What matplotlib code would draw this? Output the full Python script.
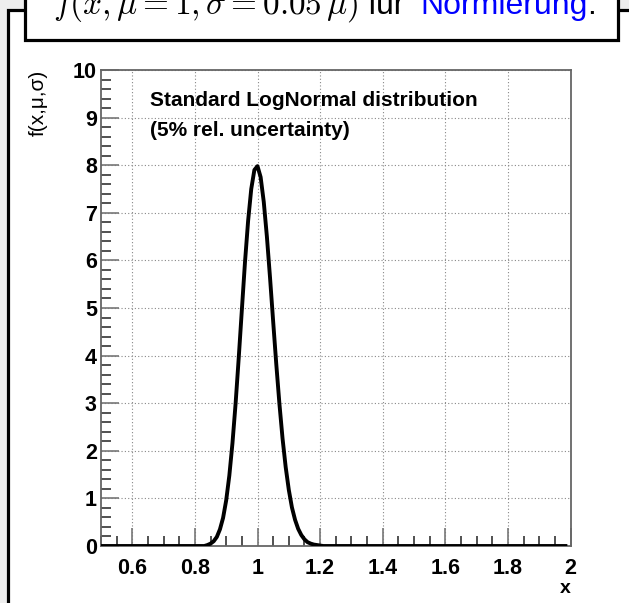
import matplotlib
matplotlib.use("Agg")
import matplotlib.pyplot as plt
from matplotlib.patches import Rectangle
from matplotlib.ticker import MultipleLocator

plt.rcParams["font.family"] = ["Liberation Sans", "DejaVu Sans"]
plt.rcParams["mathtext.fontset"] = "cm"

# curve (peak ~8 at x=1, tails end near 0.84 and 1.2)
x_vals = [0.50, 0.83, 0.84, 0.85, 0.86, 0.87, 0.88, 0.89, 0.90, 0.91, 0.92,
          0.93, 0.94, 0.95, 0.96, 0.97, 0.98, 0.99, 1.00, 1.01, 1.02, 1.03,
          1.04, 1.05, 1.06, 1.07, 1.08, 1.09, 1.10, 1.11, 1.12, 1.13, 1.14,
          1.15, 1.16, 1.17, 1.18, 1.19, 1.20, 1.21, 1.99]
y_vals = [0.0, 0.0, 0.02, 0.05, 0.10, 0.19, 0.35, 0.59, 0.96, 1.48, 2.16,
          2.99, 3.95, 4.96, 5.96, 6.83, 7.50, 7.90, 7.98, 7.75, 7.23, 6.50,
          5.64, 4.72, 3.82, 2.99, 2.26, 1.66, 1.18, 0.81, 0.55, 0.36, 0.23,
          0.14, 0.08, 0.05, 0.03, 0.02, 0.01, 0.0, 0.0]

x_ticks = [0.6, 0.8, 1.0, 1.2, 1.4, 1.6, 1.8, 2.0]
x_labels = ["0.6", "0.8", "1", "1.2", "1.4", "1.6", "1.8", "2"]
y_ticks = list(range(11))

W, H = 629, 603
fig = plt.figure(figsize=(W / 100, H / 100), dpi=100)
fig.patch.set_facecolor("#eeeeee")

def px(x, y):
    return x / W, 1 - y / H

# slide frame
fig.patches.append(Rectangle(px(8, 610), 1, 600 / H, transform=fig.transFigure,
                             facecolor="white", edgecolor="black", lw=2.3, zorder=-5))
# title box
x0, y0 = px(24.5, 39.5)
fig.patches.append(Rectangle((x0, y0), (617.5 - 24.5) / W, 0.2, transform=fig.transFigure,
                             facecolor="white", edgecolor="black", lw=2.3, zorder=-4))

by = 1 - 14 / H
fig.text(53 / W, by, r"$f(x,\mu=1,\sigma=0.05\,\mu)$", fontsize=24, va="baseline")
fig.text(367 / W, by, "für", fontsize=23, va="baseline")
fig.text(420 / W, by, "Normierung", fontsize=23, va="baseline", color="#0000ff")
fig.text(587 / W, by, ".", fontsize=23, va="baseline")

ax = fig.add_axes([101 / W, 1 - 546 / H, 469.5 / W, 476 / H])
ax.set_zorder(2)
ax.plot(x_vals, y_vals, color="black", lw=2.8, solid_capstyle="butt", zorder=3)
ax.set_xlim(0.5, 2.0)
ax.set_ylim(0, 10)

ax.set_xticks(x_ticks)
ax.set_xticklabels(x_labels)
ax.set_yticks(y_ticks)
ax.xaxis.set_minor_locator(MultipleLocator(0.05))
ax.yaxis.set_minor_locator(MultipleLocator(0.2))
ax.tick_params(which="both", direction="in", width=1.2,
               top=False, right=False, labelsize=15.5)
ax.tick_params(which="major", length=13, color="#777777")
ax.tick_params(which="minor", length=7, color="#333333")
ax.tick_params(axis="x", pad=8.5)
ax.tick_params(axis="y", pad=3)
for lab in ax.get_xticklabels() + ax.get_yticklabels():
    lab.set_fontweight("bold")
for s in ax.spines.values():
    s.set_color("#666666")
    s.set_linewidth(1.3)

ax.grid(True, which="major", color="#888888", linestyle=(0, (1, 2)), lw=0.8)

ax.text(0.105, 0.955, "Standard LogNormal distribution\n(5% rel. uncertainty)",
        transform=ax.transAxes, fontsize=15, fontweight="bold", va="top",
        linespacing=1.7)

ax.set_xlabel("x", fontweight="bold", fontsize=14)
ax.xaxis.set_label_coords(1.0, -0.09)
ax.xaxis.label.set_horizontalalignment("right")
ax.xaxis.label.set_verticalalignment("center")
ax.set_ylabel("f(x,\u03bc,\u03c3)", fontsize=15)
ax.yaxis.set_label_coords(-0.133, 1.0)
ax.yaxis.label.set_verticalalignment("center")
ax.yaxis.label.set_horizontalalignment("right")

fig.savefig("out.png", dpi=100, facecolor=fig.get_facecolor())
